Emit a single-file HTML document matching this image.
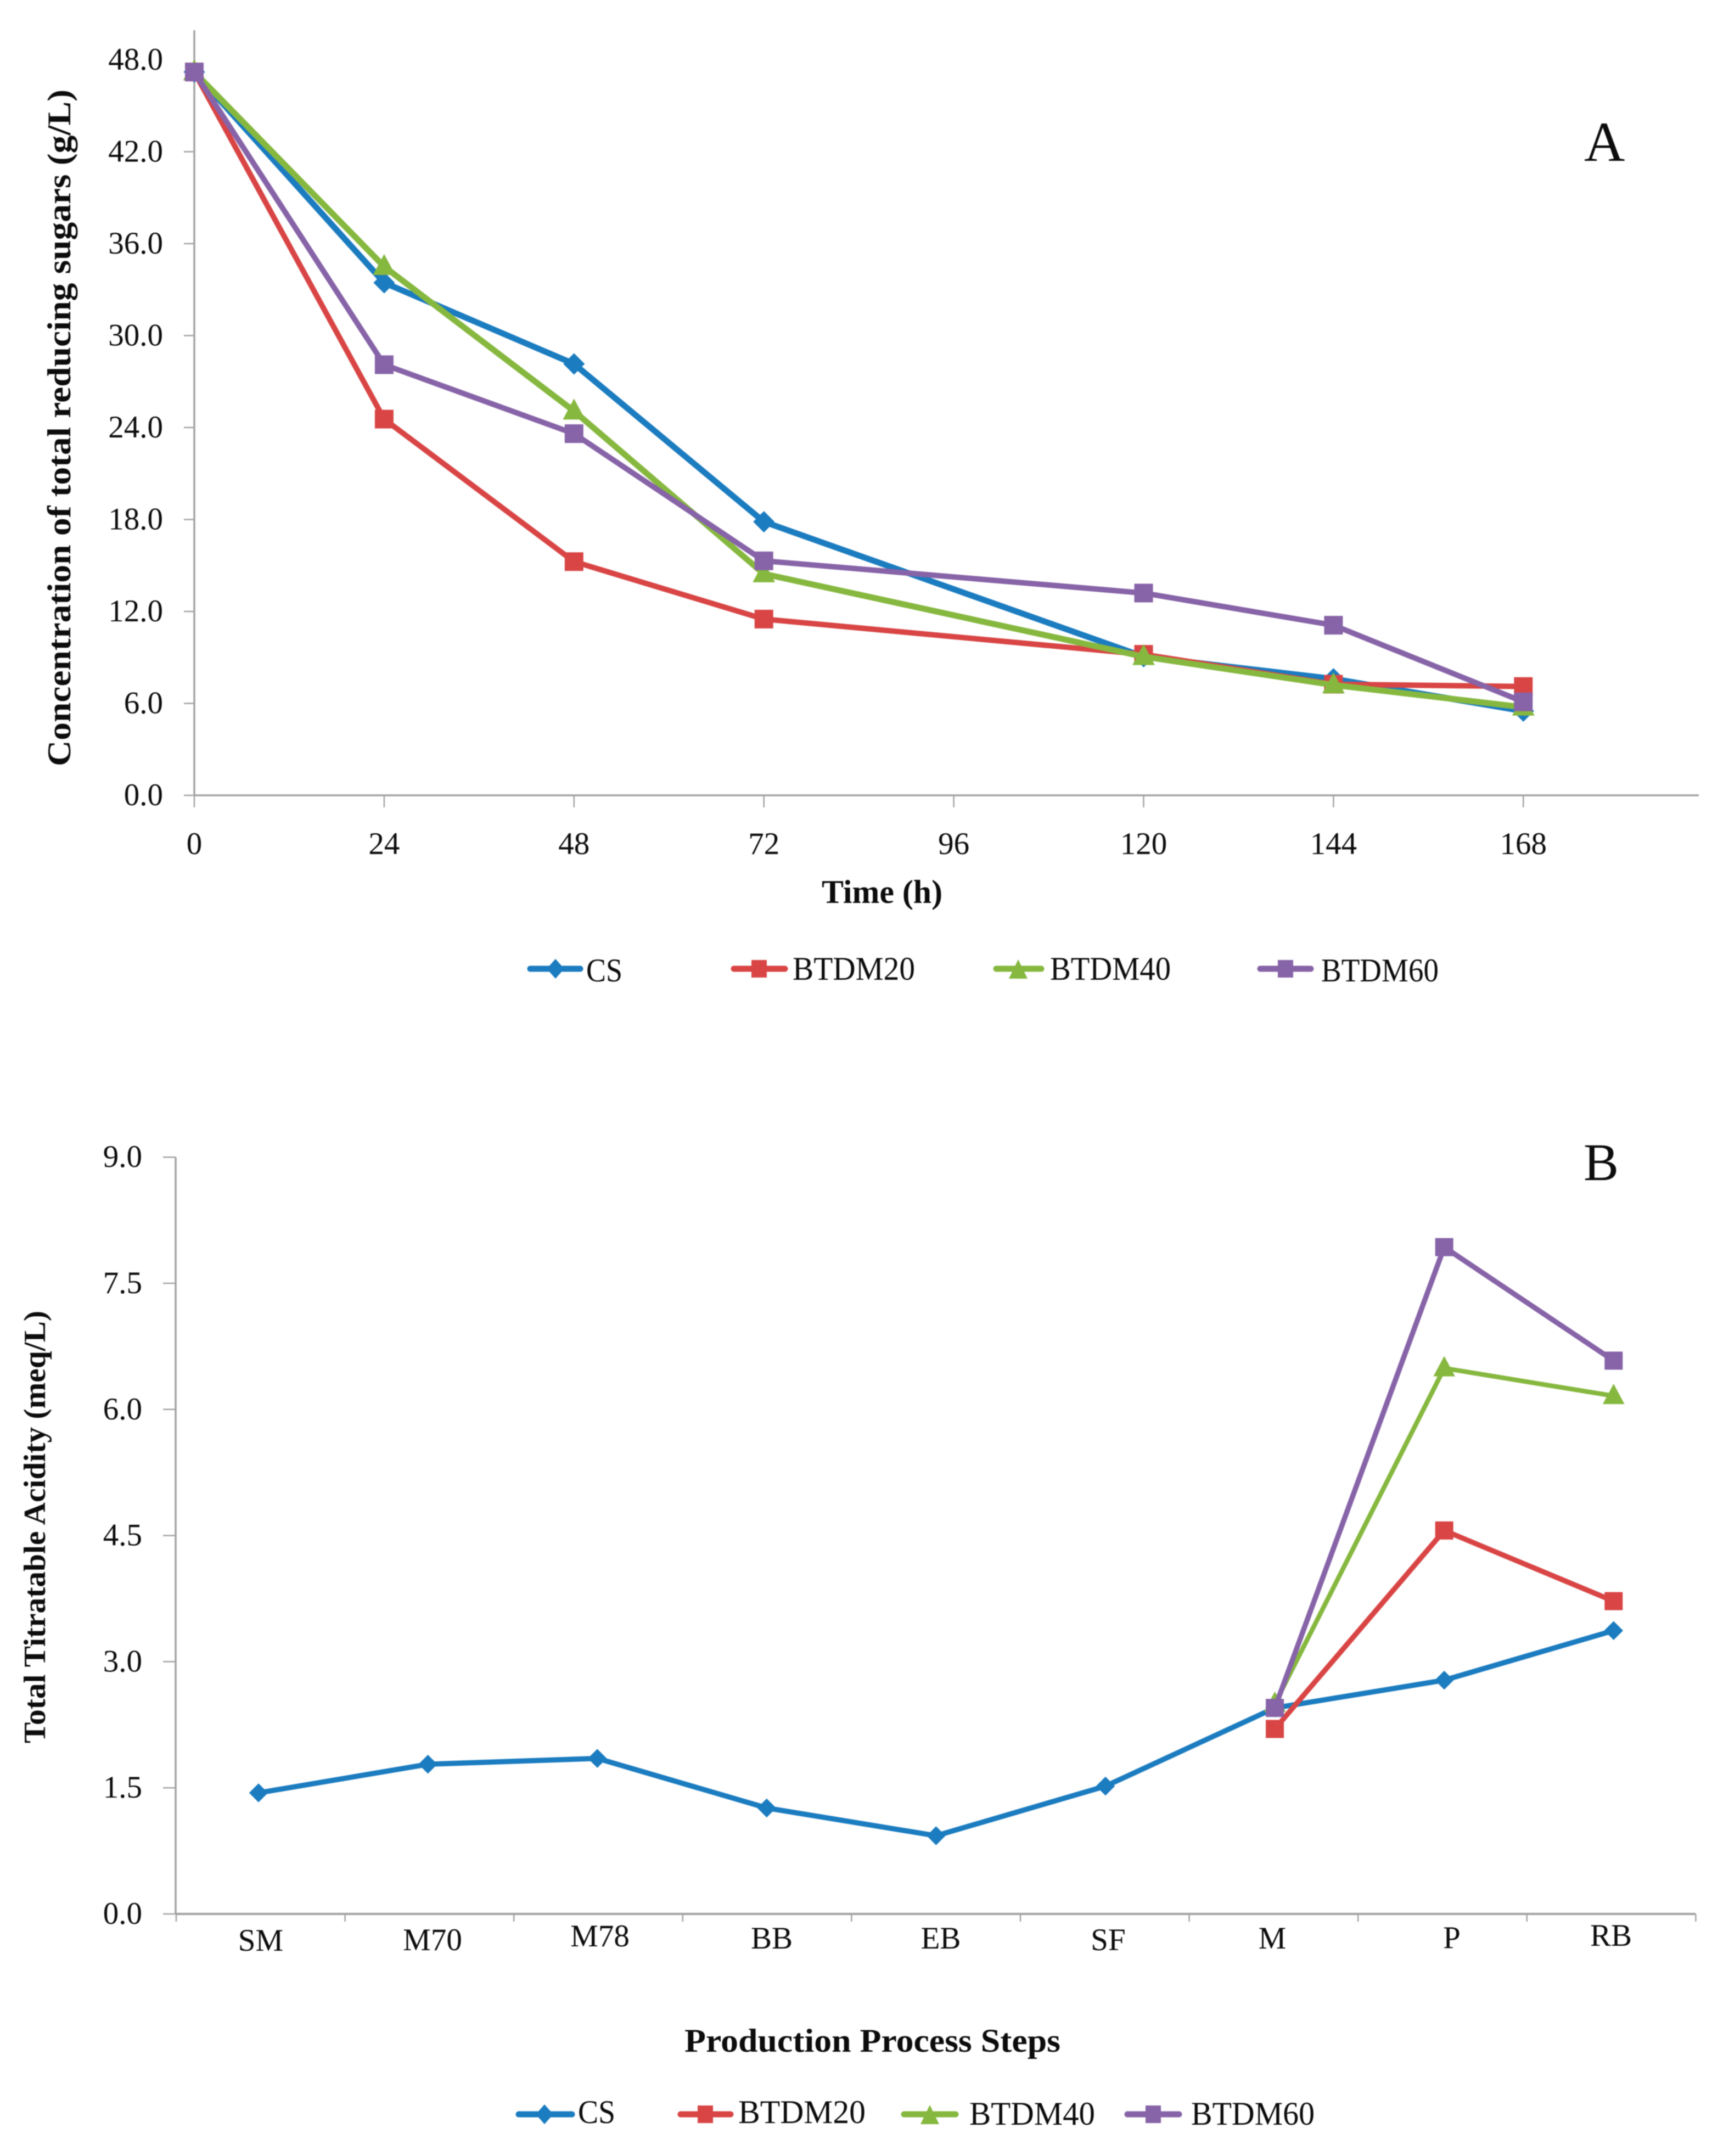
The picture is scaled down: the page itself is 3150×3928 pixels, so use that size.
<!DOCTYPE html>
<html lang="en">
<head>
<meta charset="utf-8">
<title>Total reducing sugars and titratable acidity charts</title>
<style>
html,body{margin:0;padding:0;background:#fff;width:3150px;height:3928px;overflow:hidden}
svg{display:block;filter:blur(0.9px)}
text{font-family:"Liberation Serif",serif;fill:#0c0c0c}
.t{font-size:57px}
.b{font-weight:bold}
</style>
</head>
<body>
<svg id="figure" xmlns="http://www.w3.org/2000/svg" width="3150" height="3928" viewBox="0 0 3150 3928">
  <rect width="3150" height="3928" fill="#fff"/>

  <g id="chartA"></g>
  <text x="2886" y="293" font-size="103">A</text>
  <text class="b" font-size="60" transform="translate(128,1396) rotate(-90)" textLength="1233" lengthAdjust="spacingAndGlyphs">Concentration of total reducing sugars (g/L)</text>
  <text class="b" font-size="60" x="1497" y="1645" textLength="220" lengthAdjust="spacingAndGlyphs">Time (h)</text>
  <g>
    <g>
      <line x1="966" x2="1057" y1="1765" y2="1765" stroke="#1b7cc0" stroke-width="11" stroke-linecap="round"/>
      <path d="M1012 1747L1028 1765L1012 1783L996 1765Z" fill="#1b7cc0"/>
      <text x="1068" y="1788" font-size="60" textLength="66" lengthAdjust="spacingAndGlyphs">CS</text>
    </g>
    <g>
      <line x1="1337" x2="1430" y1="1765" y2="1765" stroke="#d94545" stroke-width="11" stroke-linecap="round"/>
      <rect x="1369" y="1749" width="28" height="32" fill="#d94545"/>
      <text x="1444" y="1785" font-size="60" textLength="223" lengthAdjust="spacingAndGlyphs">BTDM20</text>
    </g>
    <g>
      <line x1="1815" x2="1897" y1="1765" y2="1765" stroke="#86b83f" stroke-width="11" stroke-linecap="round"/>
      <path d="M1855 1748L1872 1783L1838 1783Z" fill="#86b83f"/>
      <text x="1913" y="1785" font-size="60" textLength="220" lengthAdjust="spacingAndGlyphs">BTDM40</text>
    </g>
    <g>
      <line x1="2296" x2="2388" y1="1765" y2="1765" stroke="#8763a8" stroke-width="11" stroke-linecap="round"/>
      <rect x="2328" y="1749" width="28" height="32" fill="#8763a8"/>
      <text x="2407" y="1788" font-size="60" textLength="214" lengthAdjust="spacingAndGlyphs">BTDM60</text>
    </g>
  </g>

  <g id="chartB"></g>
  <text x="2885" y="2150" font-size="96">B</text>
  <text class="b" font-size="56" transform="translate(82,3176) rotate(-90)" textLength="788" lengthAdjust="spacingAndGlyphs">Total Titratable Acidity (meq/L)</text>
  <text class="b" font-size="60" x="1247" y="3738" textLength="685" lengthAdjust="spacingAndGlyphs">Production Process Steps</text>
  <g>
    <g>
      <line x1="945" x2="1042" y1="3852" y2="3852" stroke="#1b7cc0" stroke-width="11" stroke-linecap="round"/>
      <path d="M992 3834L1008 3852L992 3870L976 3852Z" fill="#1b7cc0"/>
      <text x="1053" y="3868" font-size="60" textLength="68" lengthAdjust="spacingAndGlyphs">CS</text>
    </g>
    <g>
      <line x1="1240" x2="1331" y1="3852" y2="3852" stroke="#d94545" stroke-width="11" stroke-linecap="round"/>
      <rect x="1271" y="3836" width="28" height="32" fill="#d94545"/>
      <text x="1345" y="3868" font-size="60" textLength="232" lengthAdjust="spacingAndGlyphs">BTDM20</text>
    </g>
    <g>
      <line x1="1647" x2="1741" y1="3852" y2="3852" stroke="#86b83f" stroke-width="11" stroke-linecap="round"/>
      <path d="M1694 3835L1711 3870L1677 3870Z" fill="#86b83f"/>
      <text x="1766" y="3871" font-size="60" textLength="229" lengthAdjust="spacingAndGlyphs">BTDM40</text>
    </g>
    <g>
      <line x1="2054" x2="2148" y1="3852" y2="3852" stroke="#8763a8" stroke-width="11" stroke-linecap="round"/>
      <rect x="2087" y="3836" width="28" height="32" fill="#8763a8"/>
      <text x="2170" y="3871" font-size="60" textLength="225" lengthAdjust="spacingAndGlyphs">BTDM60</text>
    </g>
  </g>
</svg>
<script>
// Panel A data
const timeTicks = [0, 24, 48, 72, 96, 120, 144, 168];
const sugarTicks = [0, 6, 12, 18, 24, 30, 36, 42, 48];
const sugarTimes = [0, 24, 48, 72, 120, 144, 168];
const sugarCS = [47.2, 33.45, 28.15, 17.85, 9.05, 7.6, 5.5];
const sugarB20 = [47.2, 24.55, 15.25, 11.5, 9.2, 7.25, 7.1];
const sugarB40 = [47.2, 34.5, 25.07, 14.45, 9.05, 7.2, 5.75];
const sugarB60 = [47.2, 28.1, 23.6, 15.3, 13.2, 11.1, 6.1];

// Panel B data
const steps = ['SM', 'M70', 'M78', 'BB', 'EB', 'SF', 'M', 'P', 'RB'];
const acidTicks = [0, 1.5, 3, 4.5, 6, 7.5, 9];
const acidCS = [1.44, 1.78, 1.85, 1.26, 0.93, 1.52, 2.45, 2.78, 3.37];
const acidB20 = [null, null, null, null, null, null, 2.2, 4.56, 3.72];
const acidB40 = [null, null, null, null, null, null, 2.5, 6.49, 6.16];
const acidB60 = [null, null, null, null, null, null, 2.45, 7.93, 6.58];

const NS = 'http://www.w3.org/2000/svg';
const BLUE = '#1b7cc0', RED = '#d94545', GREEN = '#86b83f', PURPLE = '#8763a8', AXIS = '#a3a3a3';

function make(parent, tag, attrs, txt) {
  const el = document.createElementNS(NS, tag);
  for (const k in attrs) el.setAttribute(k, attrs[k]);
  if (txt !== undefined) el.textContent = txt;
  parent.appendChild(el);
  return el;
}

function marker(parent, shape, x, y, color, r) {
  let el;
  if (shape === 'diamond') {
    el = make(parent, 'path', {d: `M${x} ${y - r * 1.15}L${x + r * 1.15} ${y}L${x} ${y + r * 1.15}L${x - r * 1.15} ${y}Z`, fill: color});
  } else if (shape === 'square') {
    el = make(parent, 'rect', {x: x - r, y: y - r, width: 2 * r, height: 2 * r, fill: color});
  } else {
    el = make(parent, 'path', {d: `M${x} ${y - r * 1.35}L${x + r * 1.2} ${y + r * 0.9}L${x - r * 1.2} ${y + r * 0.9}Z`, fill: color});
  }
  
  
}

function series(parent, name, xs, vals, xf, yf, color, shape, width, r) {
  const g = make(parent, 'g', {});
  
  
  const pts = [];
  vals.forEach((v, i) => { if (v !== null) pts.push([xf(xs[i]), yf(v)]); });
  const line = make(g, 'polyline', {
    points: pts.map(p => p.join(',')).join(' '),
    fill: 'none', stroke: color, 'stroke-width': width, 'stroke-linejoin': 'round'
  });
  
  
  pts.forEach(p => marker(g, shape, p[0], p[1], color, r));
}

function axisLine(parent, name, x1, y1, x2, y2, w) {
  const el = make(parent, 'line', {x1, y1, x2, y2, stroke: AXIS, 'stroke-width': w});
  
  
}

function label(parent, name, x, y, anchor, txt) {
  const el = make(parent, 'text', {x, y, 'text-anchor': anchor, class: 't'}, txt);
  
  
}

// ---- Panel A ----
const A = document.getElementById('chartA');
const ax = t => 354 + t / 24 * 345.9;
const ay = v => 1449 - v * 27.92;
axisLine(A, 'y-axis-a', 354, 55, 354, 1449, 3.5);
axisLine(A, 'x-axis-a', 354, 1449, 3095, 1449, 3.5);
sugarTicks.forEach(v => {
  if (v !== 48) axisLine(A, 'y-tick-a', 335, ay(v), 354, ay(v), 2.5);
  label(A, 'y-tick-label-a', 297, ay(v) + 18, 'end', v.toFixed(1));
});
timeTicks.forEach(t => {
  axisLine(A, 'x-tick-a', ax(t), 1449, ax(t), 1471, 2.5);
  label(A, 'x-tick-label-a', ax(t), 1556, 'middle', String(t));
});
series(A, 'series-cs-a', sugarTimes, sugarCS, ax, ay, BLUE, 'diamond', 11, 17);
series(A, 'series-btdm20-a', sugarTimes, sugarB20, ax, ay, RED, 'square', 10, 17);
series(A, 'series-btdm40-a', sugarTimes, sugarB40, ax, ay, GREEN, 'triangle', 11, 17);
series(A, 'series-btdm60-a', sugarTimes, sugarB60, ax, ay, PURPLE, 'square', 10, 17);

// ---- Panel B ----
const B = document.getElementById('chartB');
const bxEdge = i => 321 + i * 307.6;
const bx = i => 471 + i * 308.6;
const by = v => 3487 - v * 153.2;
const stepLabelX = [475, 788, 1093, 1406, 1714, 2019, 2318, 2645, 2935];
const stepLabelY = [3554, 3553, 3546, 3550, 3550, 3553, 3550, 3549, 3545];
axisLine(B, 'y-axis-b', 320, by(9), 320, 3487, 3.5);
axisLine(B, 'x-axis-b', 320, 3487, 3089, 3487, 4);
acidTicks.forEach(v => {
  axisLine(B, 'y-tick-b', 297, by(v), 320, by(v), 2.5);
  label(B, 'y-tick-label-b', 259, by(v) + 18, 'end', v.toFixed(1));
});
steps.forEach((s, i) => {
  axisLine(B, 'x-tick-b', bxEdge(i), 3487, bxEdge(i), 3501, 2.5);
  label(B, 'x-tick-label-b', stepLabelX[i], stepLabelY[i], 'middle', s);
});
axisLine(B, 'x-tick-b', bxEdge(9), 3487, bxEdge(9), 3501, 2.5);
const stepIdx = steps.map((s, i) => i);
series(B, 'series-cs-b', stepIdx, acidCS, bx, by, BLUE, 'diamond', 9.5, 15);
series(B, 'series-btdm20-b', stepIdx, acidB20, bx, by, RED, 'square', 9.5, 16.5);
series(B, 'series-btdm40-b', stepIdx, acidB40, bx, by, GREEN, 'triangle', 8.5, 16.5);
series(B, 'series-btdm60-b', stepIdx, acidB60, bx, by, PURPLE, 'square', 9.5, 16.5);
</script>
</body>
</html>
